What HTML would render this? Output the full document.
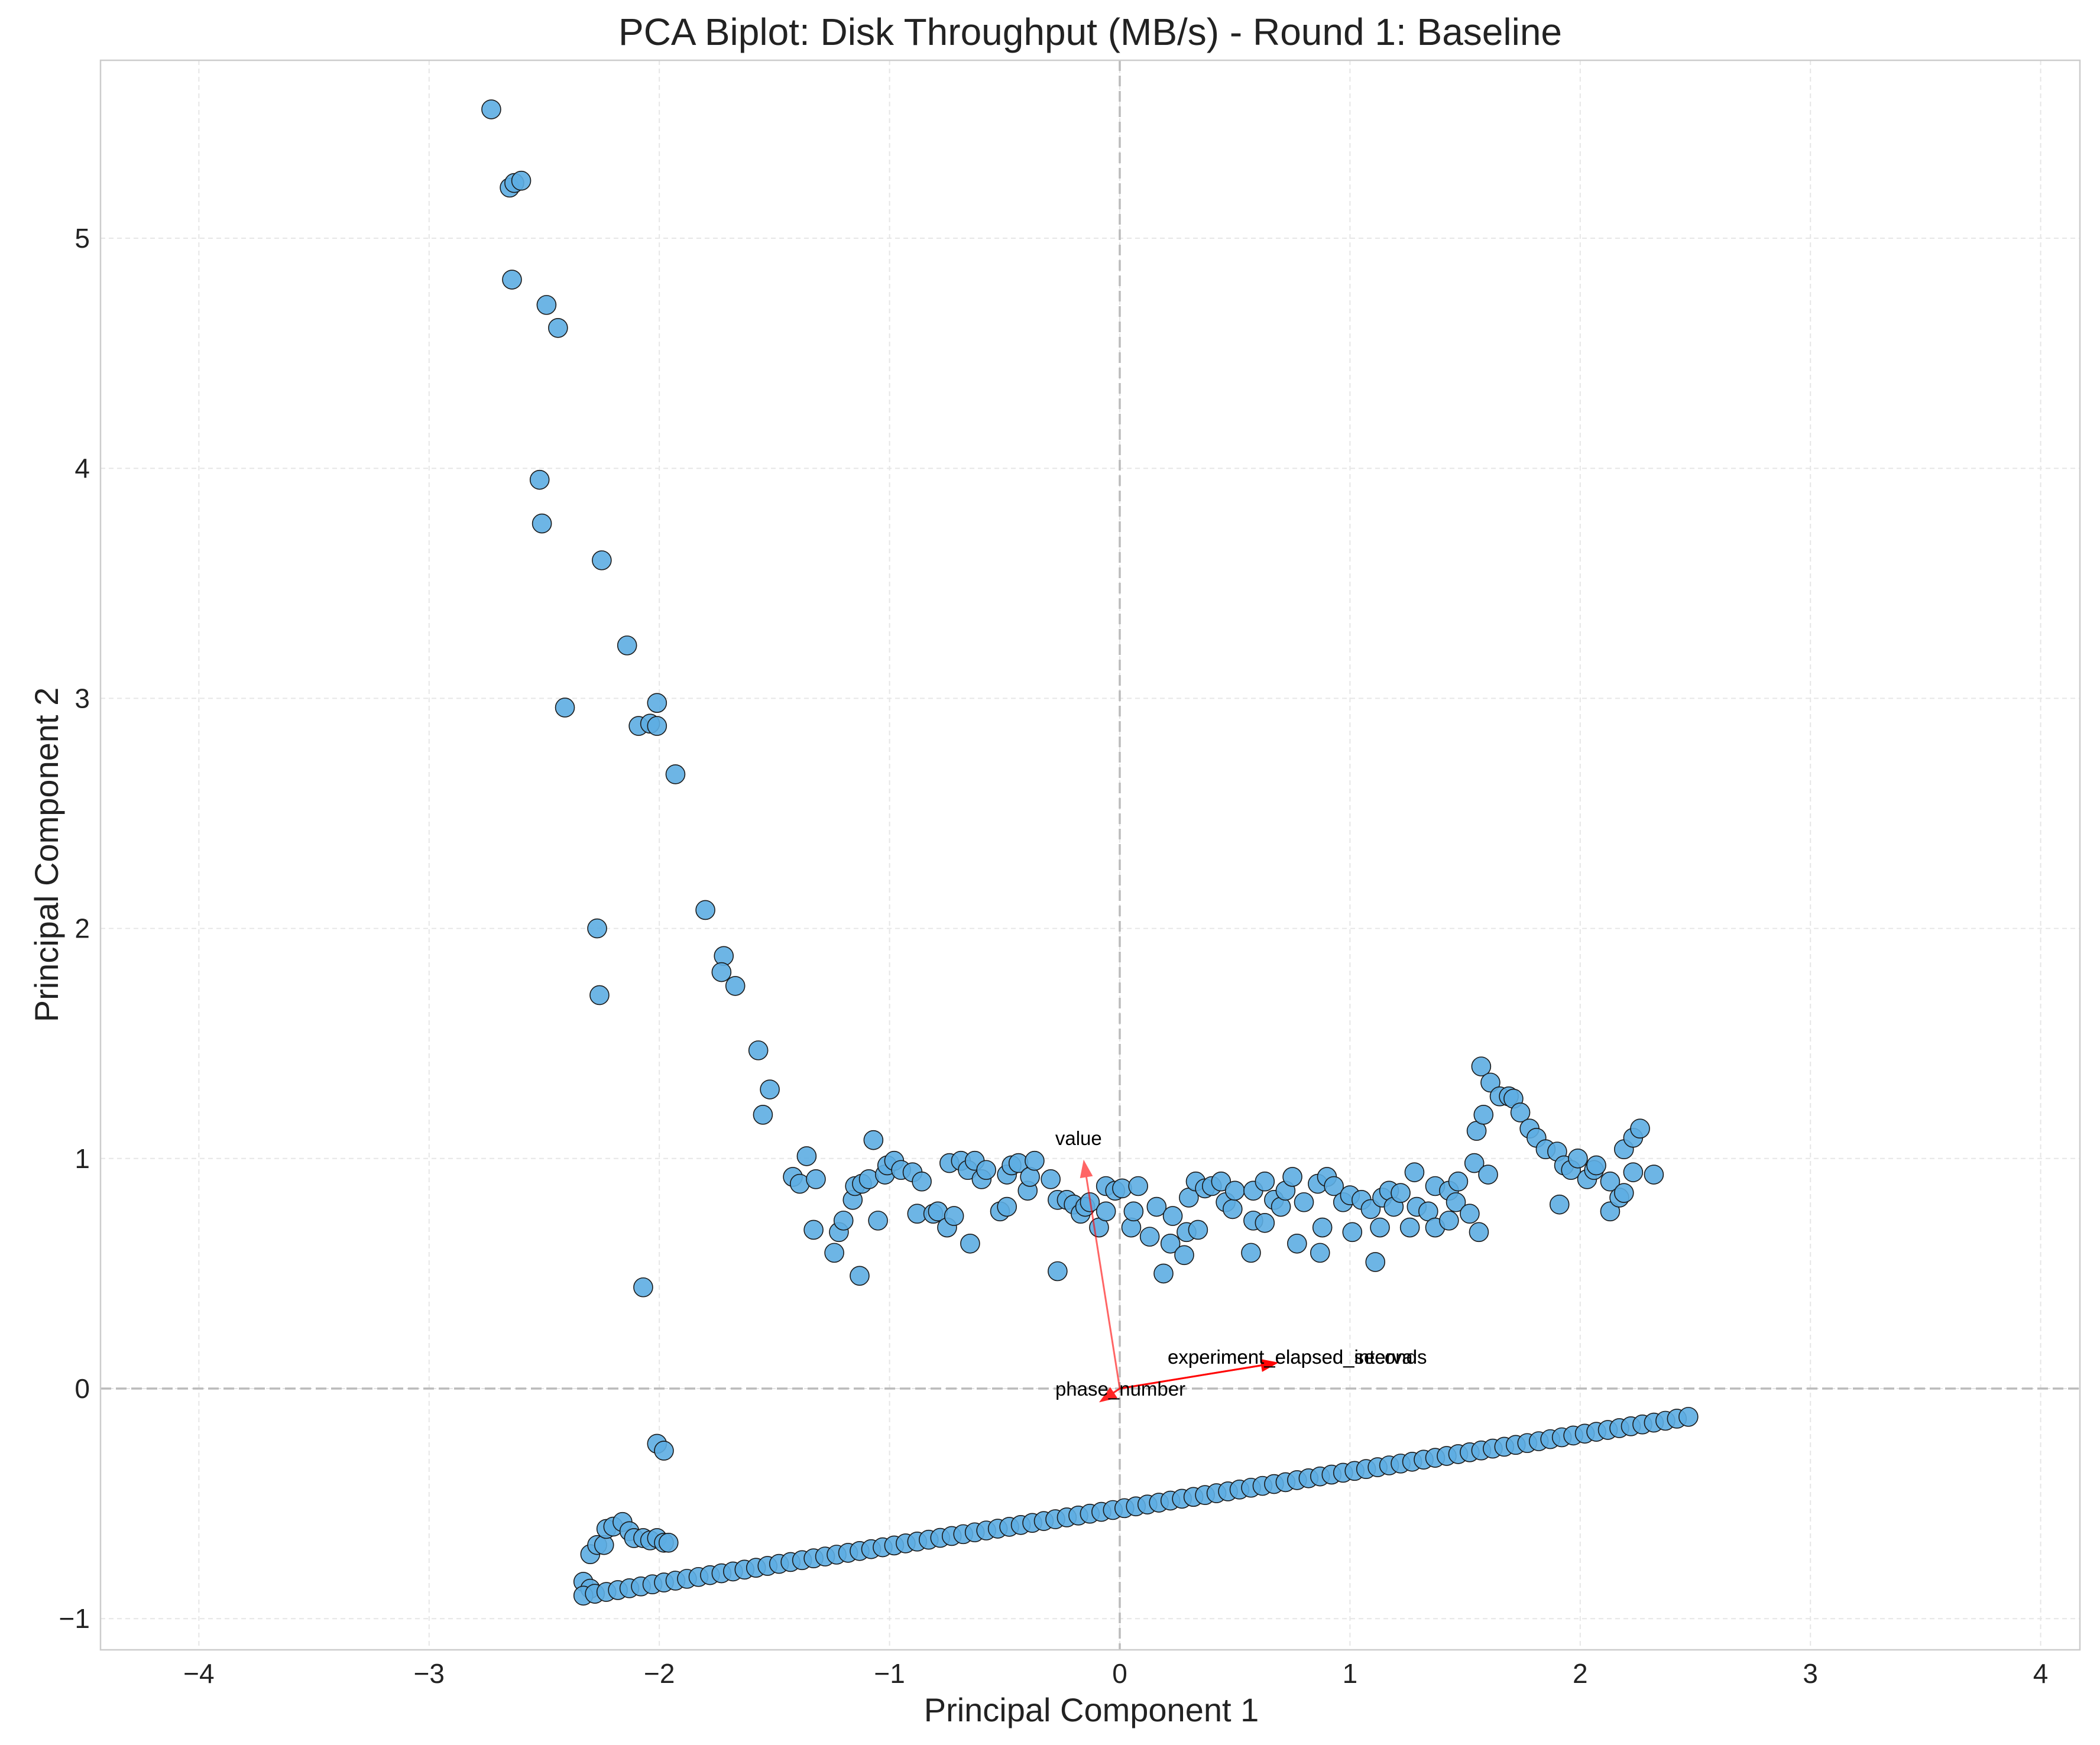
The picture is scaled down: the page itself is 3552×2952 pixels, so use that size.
<!DOCTYPE html>
<html><head><meta charset="utf-8"><style>
html,body{margin:0;padding:0;background:#fff;}
svg{display:block;font-family:"Liberation Sans",sans-serif;}
</style></head><body>
<svg id="chart" width="3552" height="2952" viewBox="0 0 3552 2952" xmlns="http://www.w3.org/2000/svg">
<rect x="0" y="0" width="3552" height="2952" fill="#fff"/>
<g id="grid"></g>
<g id="refLines"></g>
<g id="points"></g>
<g id="arrows"></g>
<rect x="170" y="102" width="3348" height="2689" fill="none" stroke="#cccccc" stroke-width="2.5"/>
<g id="ticks"></g>
<text x="1844" y="76" text-anchor="middle" font-size="64" fill="#222">PCA Biplot: Disk Throughput (MB/s) - Round 1: Baseline</text>
<text x="1846" y="2912" text-anchor="middle" font-size="56" fill="#222">Principal Component 1</text>
<text transform="translate(98,1446) rotate(-90)" text-anchor="middle" font-size="56" fill="#222">Principal Component 2</text>
</svg>
<script>
const xTicks=[-4,-3,-2,-1,0,1,2,3,4];
const yTicks=[-1,0,1,2,3,4,5];
const lineX=[];const lineY=[-0.900,-0.892,-0.884,-0.876,-0.868,-0.860,-0.851,-0.843,-0.835,-0.827,-0.819,-0.811,-0.803,-0.795,-0.787,-0.779,-0.771,-0.762,-0.754,-0.746,-0.738,-0.730,-0.722,-0.714,-0.706,-0.698,-0.690,-0.682,-0.673,-0.665,-0.657,-0.649,-0.641,-0.633,-0.625,-0.617,-0.609,-0.601,-0.593,-0.584,-0.576,-0.568,-0.560,-0.552,-0.544,-0.536,-0.528,-0.520,-0.512,-0.504,-0.496,-0.487,-0.479,-0.471,-0.463,-0.455,-0.447,-0.439,-0.431,-0.423,-0.415,-0.407,-0.398,-0.390,-0.382,-0.374,-0.366,-0.358,-0.350,-0.342,-0.334,-0.326,-0.318,-0.309,-0.301,-0.293,-0.285,-0.277,-0.269,-0.261,-0.253,-0.245,-0.237,-0.229,-0.220,-0.212,-0.204,-0.196,-0.188,-0.180,-0.172,-0.164,-0.156,-0.148,-0.140,-0.131,-0.123];
const lineXStart=-2.33, lineXStep=0.05;
const pcX=[-2.73,-2.65,-2.63,-2.60,-2.64,-2.49,-2.44,-2.52,-2.51,-2.25,-2.14,-2.41,-2.09,-2.04,-2.01,-2.01,-1.93,-1.80,-2.27,-2.26,-1.72,-1.73,-1.67,-1.57,-1.52,-1.55,-2.07,-2.01,-1.98,
-2.33,-2.30,-2.30,-2.27,-2.24,-2.23,-2.20,-2.16,-2.13,-2.11,-2.07,-2.04,-2.01,-1.98,-1.96,
-1.42,-1.39,-1.36,-1.33,-1.32,-1.24,-1.22,-1.20,-1.16,-1.15,-1.13,-1.12,-1.09,-1.07,-1.05,-1.02,-1.01,-0.98,-0.95,-0.90,-0.88,-0.86,-0.81,-0.79,-0.75,-0.74,-0.72,-0.69,-0.66,-0.65,-0.63,-0.60,-0.58,-0.52,-0.49,-0.49,-0.47,-0.44,-0.40,-0.39,-0.37,-0.30,-0.27,-0.27,-0.23,-0.20,-0.17,-0.15,-0.13,-0.09,-0.06,-0.06,-0.02,0.01,0.05,0.06,0.08,0.13,0.16,0.19,0.22,0.23,0.28,0.29,0.30,0.33,0.34,0.37,0.40,0.44,0.46,0.49,0.50,0.57,0.58,0.58,0.63,0.63,0.67,0.70,0.72,0.75,0.77,0.80,0.86,0.87,0.88,0.90,0.93,0.97,1.00,1.01,1.05,1.09,1.11,1.13,1.14,1.17,1.19,1.22,1.26,1.28,1.29,1.34,1.37,1.37,1.43,1.43,1.46,1.47,1.52,1.54,1.55,1.56,1.57,1.58,1.60,1.61,1.65,1.69,1.71,1.74,1.78,1.81,1.85,1.90,1.91,1.93,1.96,1.99,2.03,2.06,2.07,2.13,2.13,2.17,2.19,2.19,2.23,2.23,2.26,2.32];
const pcY=[5.56,5.22,5.24,5.25,4.82,4.71,4.61,3.95,3.76,3.60,3.23,2.96,2.88,2.89,2.88,2.98,2.67,2.08,2.00,1.71,1.88,1.81,1.75,1.47,1.30,1.19,0.44,-0.24,-0.27,
-0.84,-0.87,-0.72,-0.68,-0.68,-0.61,-0.60,-0.58,-0.62,-0.65,-0.65,-0.66,-0.65,-0.67,-0.67,
0.92,0.89,1.01,0.69,0.91,0.59,0.68,0.73,0.82,0.88,0.49,0.89,0.91,1.08,0.73,0.93,0.97,0.99,0.95,0.94,0.76,0.90,0.76,0.77,0.70,0.98,0.75,0.99,0.95,0.63,0.99,0.91,0.95,0.77,0.79,0.93,0.97,0.98,0.86,0.92,0.99,0.91,0.51,0.82,0.82,0.80,0.76,0.79,0.81,0.70,0.88,0.77,0.86,0.87,0.70,0.77,0.88,0.66,0.79,0.50,0.63,0.75,0.58,0.68,0.83,0.90,0.69,0.87,0.88,0.90,0.81,0.78,0.86,0.59,0.86,0.73,0.72,0.90,0.82,0.79,0.86,0.92,0.63,0.81,0.89,0.59,0.70,0.92,0.88,0.81,0.84,0.68,0.82,0.78,0.55,0.70,0.83,0.86,0.79,0.85,0.70,0.94,0.79,0.77,0.88,0.70,0.73,0.86,0.81,0.90,0.76,0.98,1.12,0.68,1.40,1.19,0.93,1.33,1.27,1.27,1.26,1.20,1.13,1.09,1.04,1.03,0.80,0.97,0.95,1.00,0.91,0.95,0.97,0.90,0.77,0.83,1.04,0.85,0.94,1.09,1.13,0.93];
const loadNames=["value","experiment_elapsed_seconds","experiment_elapsed_interval","phase_number"];
const loadX=[-0.157,0.69,0.69,-0.09];
const loadY=[0.995,0.113,0.113,-0.06];
for(let i=0;i<lineY.length;i++) lineX.push(+(lineXStart+i*lineXStep).toFixed(3));

const NS="http://www.w3.org/2000/svg";
const L=170,R=3518,T=102,B=2791;
const sx=v=>1894+v*389.4;
const sy=v=>2349-v*389.2;
function mk(tag,attrs,parent){const e=document.createElementNS(NS,tag);for(const k in attrs)e.setAttribute(k,attrs[k]);parent.appendChild(e);return e;}
const grid=document.getElementById('grid'),ticks=document.getElementById('ticks');
xTicks.forEach(t=>{
  const g=mk('line',{x1:sx(t),x2:sx(t),y1:T,y2:B,stroke:'#e6e6e6','stroke-width':2,'stroke-dasharray':'8,6'},grid);
  
  
  const tx=mk('text',{x:sx(t),y:B+56,'text-anchor':'middle','font-size':46,fill:'#222'},ticks);
  tx.textContent=(t<0?'\u2212'+(-t):t);
  
  
});
yTicks.forEach(t=>{
  const g=mk('line',{x1:L,x2:R,y1:sy(t),y2:sy(t),stroke:'#e6e6e6','stroke-width':2,'stroke-dasharray':'8,6'},grid);
  
  
  const tx=mk('text',{x:L-18,y:sy(t)+16,'text-anchor':'end','font-size':46,fill:'#222'},ticks);
  tx.textContent=(t<0?'\u2212'+(-t):t);
  
  
});
const rl=document.getElementById('refLines');
const v0=mk('line',{x1:sx(0),x2:sx(0),y1:T,y2:B,stroke:'#bbbbbb','stroke-width':3.5,'stroke-dasharray':'18,8'},rl);


const h0=mk('line',{x1:L,x2:R,y1:sy(0),y2:sy(0),stroke:'#bbbbbb','stroke-width':3.5,'stroke-dasharray':'18,8'},rl);


const pts=document.getElementById('points');
function dot(x,y){
  const c=mk('circle',{cx:sx(x),cy:sy(y),r:16,fill:'#5dade2','fill-opacity':0.9,stroke:'#1a1a1a','stroke-width':1.6},pts);
  
  
}
for(let i=0;i<pcX.length;i++) dot(pcX[i],pcY[i]);
for(let i=0;i<lineX.length;i++) dot(lineX[i],lineY[i]);
const ar=document.getElementById('arrows');
loadNames.forEach((n,i)=>{
  const x0=sx(0),y0=sy(0),x1=sx(loadX[i]),y1=sy(loadY[i]);
  const ang=Math.atan2(y1-y0,x1-x0),len=Math.hypot(x1-x0,y1-y0);
  const op=i===0?0.6:0.85;
  const g=mk('g',{transform:`translate(${x0},${y0}) rotate(${ang*180/Math.PI})`,opacity:op},ar);
  
  
  mk('line',{x1:0,y1:0,x2:len-26,y2:0,stroke:'#ff0000','stroke-width':3},g);
  mk('polygon',{points:`${len},0 ${len-30},-11 ${len-30},11`,fill:'#ff0000'},g);
  const lx=i===0?sx(loadX[i])-48:(i===3?sx(-0.28):1975);
  const ly=i===0?sy(1.09)+12:(i===3?sy(0)+12:2307);
  const t=mk('text',{x:lx,y:ly,'font-size':33,fill:'#000'},ar);
  t.textContent=n;
  
  
});
</script>
</body></html>
